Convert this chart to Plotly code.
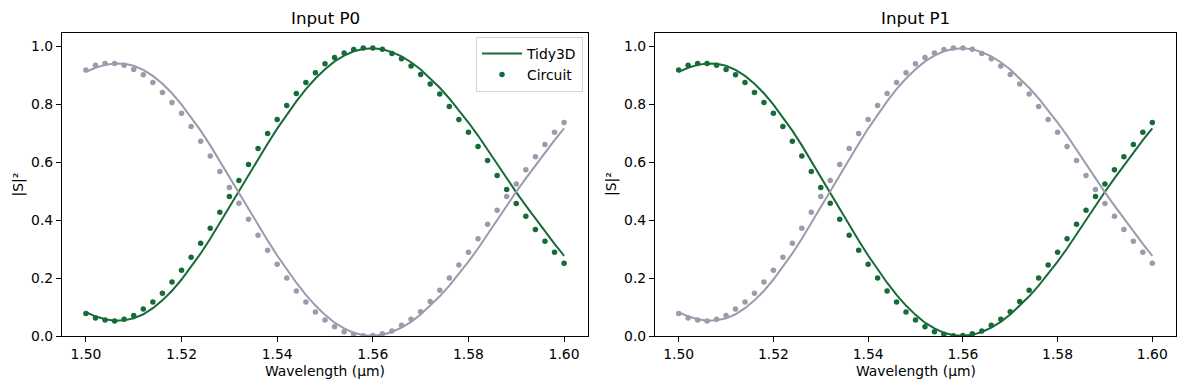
import plotly.graph_objects as go

# ---------------- data ----------------
wavelength = [1.500, 1.502, 1.504, 1.506, 1.508, 1.510, 1.512, 1.514, 1.516, 1.518,
              1.520, 1.522, 1.524, 1.526, 1.528, 1.530, 1.532, 1.534, 1.536, 1.538,
              1.540, 1.542, 1.544, 1.546, 1.548, 1.550, 1.552, 1.554, 1.556, 1.558,
              1.560, 1.562, 1.564, 1.566, 1.568, 1.570, 1.572, 1.574, 1.576, 1.578,
              1.580, 1.582, 1.584, 1.586, 1.588, 1.590, 1.592, 1.594, 1.596, 1.598,
              1.600]

# Input P0: output to the "bar" port (green) and "cross" port (gray)
p0_green_tidy3d = [0.082, 0.068, 0.058, 0.053, 0.054, 0.061, 0.075, 0.096, 0.123, 0.156,
                   0.195, 0.238, 0.285, 0.336, 0.391, 0.448, 0.503, 0.557, 0.611, 0.664,
                   0.716, 0.765, 0.810, 0.852, 0.889, 0.921, 0.948, 0.968, 0.983, 0.991,
                   0.993, 0.990, 0.980, 0.965, 0.945, 0.920, 0.890, 0.857, 0.820, 0.780,
                   0.737, 0.692, 0.643, 0.593, 0.542, 0.496, 0.450, 0.405, 0.361, 0.318,
                   0.277]
p0_gray_tidy3d = [0.912, 0.926, 0.936, 0.941, 0.940, 0.933, 0.919, 0.898, 0.871, 0.838,
                  0.799, 0.756, 0.709, 0.658, 0.603, 0.546, 0.491, 0.437, 0.383, 0.330,
                  0.278, 0.229, 0.184, 0.142, 0.105, 0.073, 0.046, 0.026, 0.011, 0.003,
                  0.001, 0.004, 0.014, 0.029, 0.049, 0.074, 0.104, 0.137, 0.174, 0.214,
                  0.257, 0.302, 0.351, 0.401, 0.452, 0.498, 0.544, 0.589, 0.633, 0.676,
                  0.717]
p0_green_circuit = [0.078, 0.062, 0.055, 0.052, 0.058, 0.071, 0.093, 0.117, 0.148, 0.186,
                    0.227, 0.272, 0.320, 0.372, 0.427, 0.482, 0.537, 0.592, 0.647, 0.699,
                    0.747, 0.796, 0.837, 0.875, 0.909, 0.940, 0.961, 0.977, 0.989, 0.994,
                    0.994, 0.990, 0.975, 0.957, 0.932, 0.903, 0.870, 0.835, 0.792, 0.747,
                    0.703, 0.654, 0.606, 0.554, 0.506, 0.457, 0.413, 0.368, 0.327, 0.289,
                    0.251]
p0_gray_circuit = [0.918, 0.935, 0.941, 0.941, 0.935, 0.920, 0.902, 0.875, 0.841, 0.806,
                   0.769, 0.723, 0.672, 0.621, 0.568, 0.513, 0.458, 0.403, 0.348, 0.296,
                   0.248, 0.200, 0.155, 0.117, 0.083, 0.055, 0.032, 0.015, 0.006, 0.001,
                   0.002, 0.008, 0.017, 0.037, 0.058, 0.084, 0.119, 0.158, 0.200, 0.245,
                   0.289, 0.336, 0.386, 0.434, 0.482, 0.525, 0.574, 0.619, 0.661, 0.703,
                   0.737]

# Input P1 (symmetric device: the two outputs swap)
p1_green_tidy3d = list(p0_gray_tidy3d)
p1_gray_tidy3d = list(p0_green_tidy3d)
p1_green_circuit = list(p0_gray_circuit)
p1_gray_circuit = list(p0_green_circuit)

titles = ["Input P0", "Input P1"]
x_ticks = [1.50, 1.52, 1.54, 1.56, 1.58, 1.60]
y_ticks = [0.0, 0.2, 0.4, 0.6, 0.8, 1.0]

GREEN = "#176b38"
GRAY = "#9a9bab"
FONT = "DejaVu Sans"

# ---------------- figure ----------------
W, H = 1189, 390
ML, MR, MT, MB = 62, 13, 33, 53.5
plot_w = W - ML - MR
plot_h = H - MT - MB

left_dom = [0.0, (588 - ML) / plot_w]
right_dom = [(655 - ML) / plot_w, 1.0]

fig = go.Figure()

panels = [
    ("x", "y", p0_green_tidy3d, p0_green_circuit, p0_gray_tidy3d, p0_gray_circuit, True),
    ("x2", "y2", p1_green_tidy3d, p1_green_circuit, p1_gray_tidy3d, p1_gray_circuit, False),
]
for xa, ya, gl, gd, yl, yd, show in panels:
    fig.add_trace(go.Scatter(x=wavelength, y=gl, mode="lines", name="Tidy3D",
                             line=dict(color=GREEN, width=2), xaxis=xa, yaxis=ya,
                             showlegend=show))
    fig.add_trace(go.Scatter(x=wavelength, y=gd, mode="markers", name="Circuit",
                             marker=dict(color=GREEN, size=5.5), xaxis=xa, yaxis=ya,
                             showlegend=show))
    fig.add_trace(go.Scatter(x=wavelength, y=yl, mode="lines", name="Tidy3D gray",
                             line=dict(color=GRAY, width=2), xaxis=xa, yaxis=ya,
                             showlegend=False))
    fig.add_trace(go.Scatter(x=wavelength, y=yd, mode="markers", name="Circuit gray",
                             marker=dict(color=GRAY, size=5.5), xaxis=xa, yaxis=ya,
                             showlegend=False))

axis_common = dict(showline=True, linecolor="black", linewidth=1.1, mirror=True,
                   ticks="outside", ticklen=5, tickwidth=1.1, tickcolor="black",
                   showgrid=False, zeroline=False,
                   tickfont=dict(family=FONT, size=13.9, color="black"))

xa_common = dict(axis_common, range=[1.495, 1.605], tickvals=x_ticks,
                 ticktext=[f"{v:.2f}" for v in x_ticks])
ya_common = dict(axis_common, range=[0, 1.046], tickvals=y_ticks,
                 ticktext=[f"{v:.1f}" for v in y_ticks])

fig.update_layout(
    width=W, height=H,
    margin=dict(l=ML, r=MR, t=MT, b=MB),
    paper_bgcolor="white", plot_bgcolor="white",
    font=dict(family=FONT, size=13.9, color="black"),
    xaxis=dict(xa_common, domain=left_dom, anchor="y"),
    yaxis=dict(ya_common, domain=[0, 1], anchor="x"),
    xaxis2=dict(xa_common, domain=right_dom, anchor="y2"),
    yaxis2=dict(ya_common, domain=[0, 1], anchor="x2"),
    legend=dict(x=(583 - ML) / plot_w, y=1 - (37 - MT) / plot_h,
                xanchor="right", yanchor="top",
                bgcolor="rgba(255,255,255,0.8)", bordercolor="#d3d3d3", borderwidth=1,
                font=dict(family=FONT, size=13.9, color="black"),
                itemwidth=40, tracegroupgap=0),
    showlegend=True,
)

annotations = []
for dom, t in zip([left_dom, right_dom], titles):
    cx = (dom[0] + dom[1]) / 2
    annotations.append(dict(text=t, x=cx, y=(336.5 - 18) / plot_h, xref="paper", yref="paper",
                            xanchor="center", yanchor="middle", showarrow=False,
                            font=dict(family=FONT, size=16.7, color="black")))
    annotations.append(dict(text="Wavelength (µm)", x=cx, y=(336.5 - 372) / plot_h,
                            xref="paper", yref="paper", xanchor="center", yanchor="middle",
                            showarrow=False, font=dict(family=FONT, size=13.9, color="black")))
for px in [18, 611.5]:
    annotations.append(dict(text="|S|²", x=(px - ML) / plot_w, y=0.5, xref="paper", yref="paper",
                            xanchor="center", yanchor="middle", textangle=-90, showarrow=False,
                            font=dict(family=FONT, size=13.9, color="black")))
fig.update_layout(annotations=annotations)

fig.write_html("out.html", config={"displayModeBar": False},
               post_script="document.body.style.margin='0';")
